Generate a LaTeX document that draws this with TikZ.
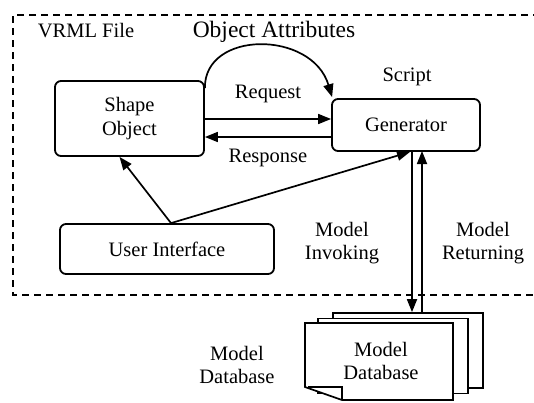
\documentclass[tikz,border=0pt]{standalone}
\usepackage{fontspec}
\setmainfont{Liberation Serif}
\usetikzlibrary{arrows.meta}
\begin{document}
\begin{tikzpicture}[x=1pt,y=1pt,
  txt/.style={font=\fontsize{20.5}{23.5}\selectfont, align=center, inner sep=0pt},
  box/.style={draw, line width=1.8pt, rounded corners=6pt, inner sep=0pt, align=center, font=\fontsize{20.5}{23.5}\selectfont},
  page/.style={draw, line width=1.7pt, fill=white, minimum width=150pt, minimum height=75pt, inner sep=0pt},
  conn/.style={line width=1.7pt, -{Triangle[length=13pt,width=10pt]}},
]
\useasboundingbox (0,0) rectangle (534,-402);
% dashed frame
\draw[line width=1.6pt, dash pattern=on 7pt off 5pt] (540,-15) -- (13,-15) -- (13,-295) -- (540,-295);
\node[txt] (vrml) at (86,-31) {VRML File};
\node[txt, font=\fontsize{23.5}{26}\selectfont] (oa) at (274,-32) {Object Attributes};
\node[txt] (script) at (407,-77) {Script};
% boxes
\node[box, minimum width=149pt, minimum height=75pt] (shape) at (129.5,-118.5) {Shape\\Object};
\node[box, minimum width=148pt, minimum height=52pt] (gen) at (406,-125) {Generator};
\node[box, minimum width=214pt, minimum height=50pt] (ui) at (167,-249) {User Interface};
% request / response
\coordinate (rqs) at (shape.east |- 0,-119);
\coordinate (rqe) at (gen.west |- 0,-119);
\coordinate (rss) at (gen.west |- 0,-137);
\coordinate (rse) at (shape.east |- 0,-137);
\draw[conn] (rqs) -- (rqe);
\draw[conn] (rss) -- (rse);
\node[txt] (req) at (268,-94) {Request};
\node[txt] (resp) at (268,-158) {Response};
% object attributes arc
\draw[conn] ([yshift=-8pt]shape.north east) .. controls (204,-30) and (312,-30) .. ([xshift=1pt,yshift=1pt]gen.north west);
% user interface arrows
\coordinate (uitop) at ([xshift=4pt]ui.north);
\draw[conn] (uitop) -- ([xshift=-10pt]shape.south);
\draw[conn] (uitop) -- ([xshift=4pt]gen.south);
% database pages
\node[page] (back) at (408,-350.5) {};
\node[page] (mid) at (393,-356) {};
\path (305,-323) coordinate (fnw) (453,-400) coordinate (fse);
\draw[line width=1.7pt, fill=white, line join=miter]
  (fnw) -- (fnw -| fse) -- (fse) -- (342,-400) -- (305,-387) -- cycle;
\draw[line width=1.5pt] (308,-387) -- (342,-387) -- (342,-400);
\node[txt] (dbt) at (381,-361) {Model\\Database};
% model invoking / returning
\coordinate (dnTop) at (412,-151);
\coordinate (upTop) at (422,-151);
\draw[conn] (dnTop) -- (dnTop |- back.north);
\draw[conn] (upTop |- back.north) -- (upTop);
\node[txt] (inv) at (342,-243) {Model\\Invoking};
\node[txt] (ret) at (483,-243) {Model\\Returning};
\node[txt] (dbl) at (237,-365) {Model\\Database};
\end{tikzpicture}
\end{document}
